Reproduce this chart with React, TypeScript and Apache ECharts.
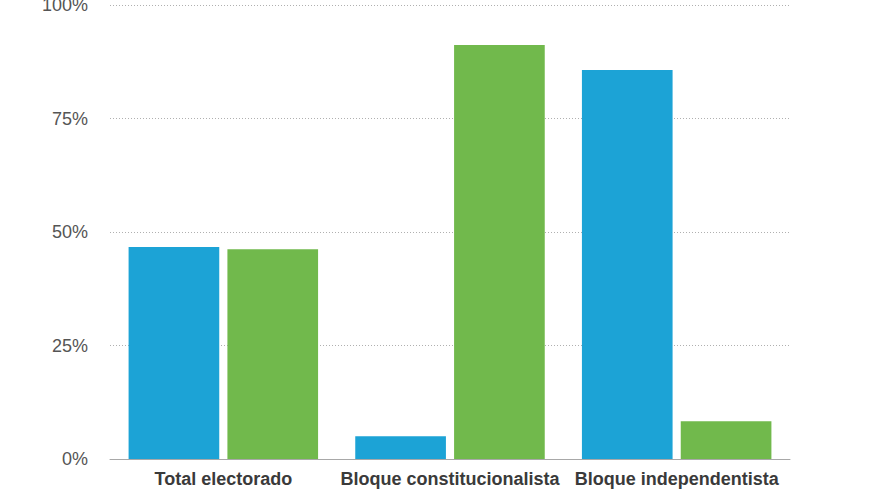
import React, { useEffect, useRef } from "react";
import * as echarts from "echarts";

const categories = ["Total electorado", "Bloque constitucionalista", "Bloque independentista"];
const blueValues = [46.7, 5.0, 85.7];
const greenValues = [46.2, 91.2, 8.3];
const yTicks = [0, 25, 50, 75, 100];

export default function App() {
  const ref = useRef<HTMLDivElement>(null);
  useEffect(() => {
    if (!ref.current) return;
    const chart = echarts.init(ref.current, undefined, { renderer: "svg" });
    chart.setOption({
      animation: false,
      backgroundColor: "#ffffff",
      grid: { left: 110, right: 90, top: 5, bottom: 36, outerBoundsMode: "none", containLabel: false },
      xAxis: {
        type: "category",
        data: categories,
        axisTick: { show: false },
        axisLine: { lineStyle: { color: "#a8a8a8", width: 1 } },
        axisLabel: {
          interval: 0,
          color: "#3a3a3a",
          fontWeight: "bold",
          fontSize: 18,
          fontFamily: "Liberation Sans, Arial, sans-serif",
          margin: 11,
        },
      },
      yAxis: {
        type: "value",
        min: yTicks[0],
        max: yTicks[yTicks.length - 1],
        interval: 25,
        axisLine: { show: false },
        axisTick: { show: false },
        axisLabel: {
          formatter: "{value}%",
          color: "#555555",
          fontSize: 18,
          fontFamily: "Liberation Sans, Arial, sans-serif",
          margin: 22,
        },
        splitLine: { lineStyle: { color: "#b0b0b0", type: [1, 2], width: 1 } },
      },
      series: [
        {
          type: "bar",
          data: blueValues,
          barWidth: "40%",
          barGap: "9%",
          itemStyle: { color: "#1ca3d6" },
        },
        {
          type: "bar",
          data: greenValues,
          barWidth: "40%",
          itemStyle: { color: "#71b94c" },
        },
      ],
    });
    return () => chart.dispose();
  }, []);
  return <div ref={ref} style={{ width: 880, height: 495, position: "absolute", left: 0, top: 0 }} />;
}
